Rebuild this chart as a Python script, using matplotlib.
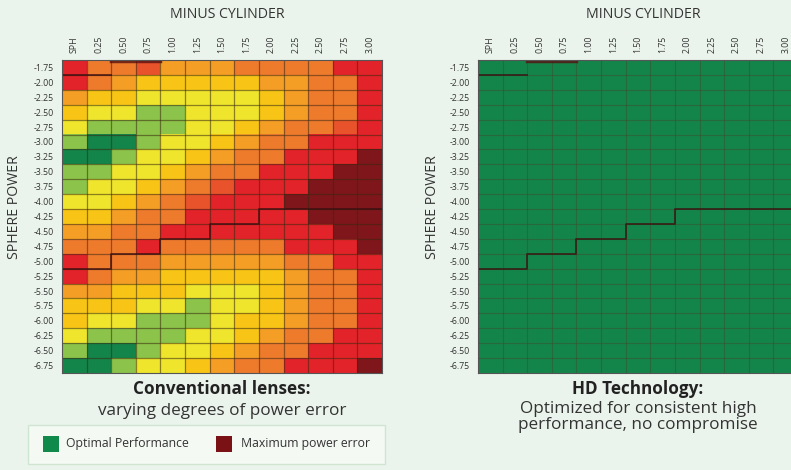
import numpy as np
import matplotlib
matplotlib.use("Agg")
import matplotlib.pyplot as plt
from matplotlib.colors import ListedColormap, BoundaryNorm
from matplotlib.patches import Rectangle

plt.rcParams["font.family"] = ["Open Sans", "DejaVu Sans"]

cyl_labels = ["SPH", "0.25", "0.50", "0.75", "1.00", "1.25", "1.50",
              "1.75", "2.00", "2.25", "2.50", "2.75", "3.00"]
sph_labels = ["-1.75", "-2.00", "-2.25", "-2.50", "-2.75", "-3.00", "-3.25",
              "-3.50", "-3.75", "-4.00", "-4.25", "-4.50", "-4.75", "-5.00",
              "-5.25", "-5.50", "-5.75", "-6.00", "-6.25", "-6.50", "-6.75"]

# power error level per cell, 0 = optimal ... 8 = maximum error
conventional = [
    [7, 5, 5, 6, 4, 4, 4, 5, 5, 5, 5, 7, 7],
    [7, 5, 4, 3, 3, 3, 3, 3, 4, 4, 5, 5, 7],
    [4, 3, 3, 2, 2, 2, 2, 2, 3, 4, 5, 5, 7],
    [3, 2, 2, 1, 1, 2, 2, 2, 3, 4, 5, 5, 7],
    [2, 1, 1, 1, 1, 2, 2, 3, 4, 5, 5, 6, 7],
    [1, 0, 0, 1, 2, 2, 3, 4, 5, 5, 7, 7, 7],
    [0, 0, 1, 2, 2, 3, 4, 5, 5, 7, 7, 7, 8],
    [1, 1, 2, 2, 3, 4, 5, 5, 7, 7, 7, 8, 8],
    [1, 2, 2, 3, 4, 5, 6, 7, 7, 7, 8, 8, 8],
    [2, 2, 3, 4, 5, 6, 7, 7, 7, 8, 8, 8, 8],
    [3, 3, 4, 5, 5, 7, 7, 7, 7, 7, 8, 8, 8],
    [4, 4, 5, 5, 7, 7, 7, 7, 7, 7, 7, 8, 8],
    [5, 5, 5, 7, 5, 5, 5, 5, 5, 7, 7, 7, 8],
    [7, 5, 5, 5, 4, 4, 4, 4, 4, 5, 5, 7, 7],
    [7, 5, 4, 4, 3, 3, 3, 3, 3, 4, 5, 5, 7],
    [4, 4, 3, 3, 3, 2, 2, 2, 3, 4, 5, 5, 7],
    [3, 3, 3, 2, 2, 1, 2, 2, 3, 4, 5, 5, 7],
    [3, 2, 2, 1, 1, 1, 2, 3, 3, 4, 5, 5, 7],
    [2, 1, 1, 1, 1, 2, 2, 3, 4, 5, 5, 7, 7],
    [1, 0, 0, 1, 2, 2, 3, 4, 5, 5, 7, 7, 7],
    [0, 0, 1, 2, 2, 3, 4, 5, 5, 7, 7, 7, 8],
]
hd_tech = [[0] * 13 for _ in range(21)]

level_colors = ["#14854a", "#8cc34a", "#eee52c", "#f8c516", "#f59e26",
                "#ee7a2c", "#e9532c", "#e3232a", "#7e161b"]
cmap = ListedColormap(level_colors)
norm = BoundaryNorm(np.arange(-0.5, 9.5, 1), cmap.N)

# staircase boundary drawn on both grids (col edge, row edge)
step_x = [-0.5, 1.5, 1.5, 3.5, 3.5, 5.5, 5.5, 7.5, 7.5, 12.5]
step_y = [13.5, 13.5, 12.5, 12.5, 11.5, 11.5, 10.5, 10.5, 9.5, 9.5]

bg = "#ebf4ec"
text_col = "#333333"

fig = plt.figure(figsize=(7.91, 4.70), dpi=100, facecolor=bg)


def draw_grid(ax, data, grid_col, grid_alpha):
    arr = np.array(data)
    ax.imshow(arr, cmap=cmap, norm=norm, aspect="auto",
              interpolation="nearest")
    nr, nc = arr.shape
    for i in range(1, nc):
        ax.axvline(i - 0.5, color=grid_col, lw=0.9, alpha=grid_alpha)
    for j in range(1, nr):
        ax.axhline(j - 0.5, color=grid_col, lw=0.9, alpha=grid_alpha)
    ax.plot(step_x, step_y, color="#3a1010", lw=1.3, alpha=0.8)
    ax.plot([-0.5, 1.5], [0.5, 0.5], color="#3a1010", lw=1.3, alpha=0.8)
    ax.plot([1.5, 3.5], [-0.4, -0.4], color="#5a1010", lw=2.5, alpha=0.8)
    ax.set_xlim(-0.5, nc - 0.5)
    ax.set_ylim(nr - 0.5, -0.5)
    ax.xaxis.tick_top()
    ax.set_xticks(range(nc))
    ax.set_xticklabels(cyl_labels, rotation=90, fontsize=6.3, color=text_col)
    ax.set_yticks(range(nr))
    ax.set_yticklabels(sph_labels, fontsize=6.3, color=text_col)
    ax.tick_params(length=0, pad=6)
    ax.tick_params(axis="x", pad=5)
    for sp in ax.spines.values():
        sp.set_color("#555555")
        sp.set_linewidth(0.8)


ax1 = fig.add_axes([62 / 791, 97 / 470, 320 / 791, 313 / 470])
draw_grid(ax1, conventional, "#3a2a10", 0.55)
ax2 = fig.add_axes([478 / 791, 97 / 470, 320 / 791, 313 / 470])
draw_grid(ax2, hd_tech, "#4a3a20", 0.35)

# axis titles
fig.text(227 / 791, 1 - 15 / 470, "MINUS CYLINDER", ha="center", va="center",
         fontsize=10.2, color=text_col)
fig.text(643 / 791, 1 - 15 / 470, "MINUS CYLINDER", ha="center", va="center",
         fontsize=10.2, color=text_col)
fig.text(15 / 791, 1 - 207 / 470, "SPHERE POWER", ha="center", va="center",
         rotation=90, fontsize=10.2, color=text_col)
fig.text(432 / 791, 1 - 207 / 470, "SPHERE POWER", ha="center", va="center",
         rotation=90, fontsize=10.2, color=text_col)

# captions
fig.text(222 / 791, 1 - 389 / 470, "Conventional lenses:", ha="center",
         va="center", fontsize=12.3, fontweight="bold", color="#222222")
fig.text(222 / 791, 1 - 411 / 470, "varying degrees of power error",
         ha="center", va="center", fontsize=12.3, color=text_col)
fig.text(638 / 791, 1 - 389 / 470, "HD Technology:", ha="center",
         va="center", fontsize=12.3, fontweight="bold", color="#222222")
fig.text(638 / 791, 1 - 417 / 470,
         "Optimized for consistent high\nperformance, no compromise",
         ha="center", va="center", fontsize=12.3, color=text_col,
         linespacing=0.92)

# legend box
fig.patches.append(Rectangle((28 / 791, 1 - 464 / 470), 357 / 791, 39 / 470,
                             transform=fig.transFigure, facecolor="#f4f9f4",
                             edgecolor="#cfe5d2", lw=1))
fig.patches.append(Rectangle((43 / 791, 1 - 452 / 470), 16 / 791, 16 / 470,
                             transform=fig.transFigure,
                             facecolor="#0f8a4a", edgecolor="none"))
fig.patches.append(Rectangle((216 / 791, 1 - 452 / 470), 16 / 791, 16 / 470,
                             transform=fig.transFigure,
                             facecolor="#7a1215", edgecolor="none"))
fig.text(66 / 791, 1 - 444 / 470, "Optimal Performance", ha="left",
         va="center", fontsize=8.8, color=text_col)
fig.text(241 / 791, 1 - 444 / 470, "Maximum power error", ha="left",
         va="center", fontsize=8.8, color=text_col)

fig.savefig("out.png", dpi=100, facecolor=bg)
